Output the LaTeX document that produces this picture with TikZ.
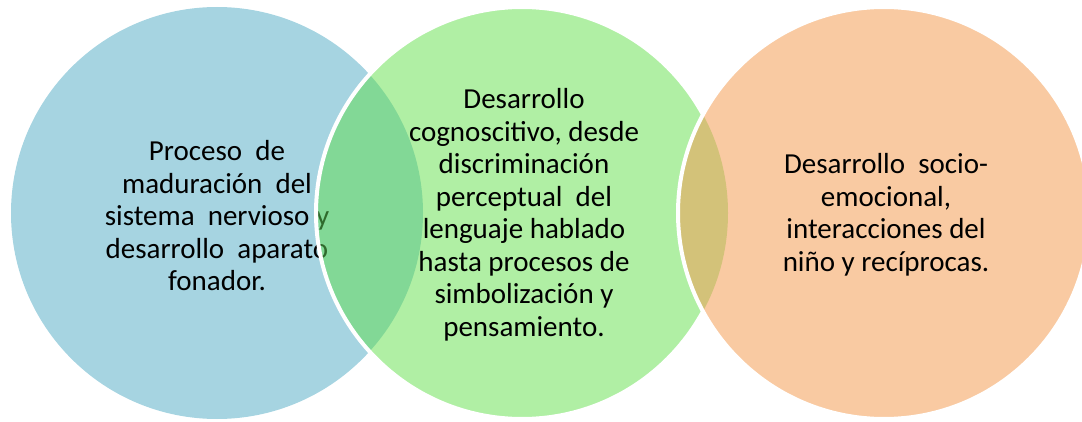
\documentclass[tikz,border=0pt]{standalone}
\usepackage{fontspec}
\setmainfont{Carlito}
\definecolor{cblue}{HTML}{A6D4E1}
\definecolor{cgreen}{HTML}{B0EFA4}
\definecolor{corange}{HTML}{F9CAA2}
\definecolor{lensgb}{HTML}{82D896}
\definecolor{lensgo}{HTML}{D3C279}
\definecolor{lenstext}{HTML}{2F6A2C}
\newcommand{\bluetxt}{Proceso\ \ de\\maduración\ \ del\\sistema\ \ nervioso y\\desarrollo\ \ aparato\\fonador.}
\tikzset{
  txt/.style={align=center, inner sep=0pt, font=\fontsize{29}{32.5}\selectfont},
  rim/.style={draw=white, line width=4pt}
}
\begin{document}
\begin{tikzpicture}[x=1pt,y=1pt]
\useasboundingbox (0,0) rectangle (1082,421);
\coordinate (cb) at (217,208);
\coordinate (cg) at (522,208);
\coordinate (co) at (884,208);
% blue circle and its text
\fill[cblue] (cb) circle (206);
\node[txt] (tb) at (217,205) {\bluetxt};
% green circle
\fill[cgreen] (cg) circle (206);
\begin{scope}
  \clip (cb) circle (206);
  \clip (cg) circle (206);
  \fill[lensgb] (cg) circle (206);
  \node[txt, text=lenstext] (tbl) at (217,205) {\bluetxt};
\end{scope}
\draw[rim] (cg) circle (206);
\node[txt] (tg) at (524,206) {Desarrollo\\cognoscitivo, desde\\discriminación\\perceptual\ \ del\\lenguaje hablado\\hasta procesos de\\simbolización y\\pensamiento.};
% orange circle
\fill[corange] (co) circle (206);
\begin{scope}
  \clip (cg) circle (206);
  \clip (co) circle (206);
  \fill[lensgo] (co) circle (206);
\end{scope}
\draw[rim] (co) circle (206);
\node[txt] (to) at (886,206) {Desarrollo\ \ socio-\\emocional,\\interacciones del\\niño y recíprocas.};
\end{tikzpicture}
\end{document}
